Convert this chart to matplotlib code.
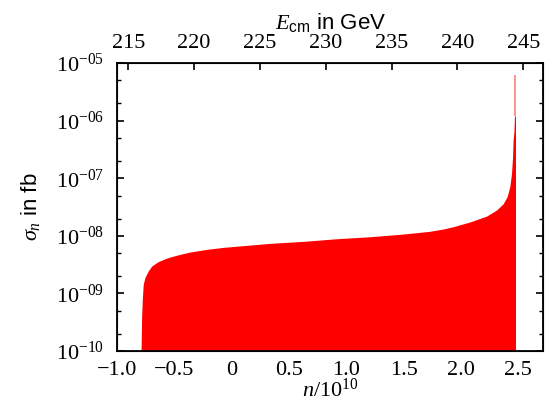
import numpy as np
import matplotlib
matplotlib.use("Agg")
import matplotlib.pyplot as plt
from matplotlib.ticker import LogLocator, FuncFormatter, NullFormatter

plt.rcParams["mathtext.fontset"] = "custom"
plt.rcParams["mathtext.rm"] = "Liberation Serif"
plt.rcParams["mathtext.it"] = "Liberation Serif:italic"
plt.rcParams["mathtext.sf"] = "Liberation Sans"
plt.rcParams["font.family"] = ["Liberation Sans", "DejaVu Sans"]

# values (n in units of 1e10, sigma in fb)
n_vals = [-0.790, -0.785, -0.779, -0.771, -0.756, -0.727, -0.697, -0.640, -0.582,
          -0.538, -0.451, -0.364, -0.218, -0.073, 0.131, 0.334, 0.624, 0.915,
          1.206, 1.496, 1.729, 1.850, 1.932, 2.078, 2.223, 2.310, 2.368, 2.403,
          2.426, 2.441, 2.450, 2.455, 2.462, 2.467, 2.476]
sigma_vals = [1e-10, 4e-10, 8.2e-10, 1.45e-9, 1.9e-9, 2.47e-9, 3.0e-9, 3.57e-9, 4.0e-9,
              4.29e-9, 4.77e-9, 5.23e-9, 5.83e-9, 6.31e-9, 6.84e-9, 7.41e-9, 8.02e-9, 8.91e-9,
              9.65e-9, 1.075e-8, 1.2e-8, 1.32e-8, 1.44e-8, 1.74e-8, 2.2e-8, 2.8e-8, 3.6e-8, 4.8e-8,
              7.1e-8, 1.2e-7, 2.3e-7, 4.6e-7, 6.3e-7, 1.2e-6, 1.2e-6]
spike_n = 2.471
spike_top = 6.2e-6

x_ticks = [-1.0, -0.5, 0, 0.5, 1.0, 1.5, 2.0, 2.5]
x_labels = ["\u22121.0", "\u22120.5", "0", "0.5", "1.0", "1.5", "2.0", "2.5"]
e_ticks = [215, 220, 225, 230, 235, 240, 245]

fig = plt.figure(figsize=(5.54, 4.04), dpi=100)
ax = fig.add_axes([0.2112, 0.131, 0.7698, 0.713])

ax.fill_between(n_vals, 1e-11, sigma_vals, color="#ff0000", linewidth=0)
ax.vlines(spike_n, sigma_vals[-1], spike_top, color="#ff7f7f", linewidth=1.2)

ax.set_yscale("log")
ax.set_ylim(1e-10, 1e-5)
ax.set_xlim(-1.0, 2.72)

ax.yaxis.set_major_locator(LogLocator(base=10, numticks=10))
ax.yaxis.set_minor_locator(LogLocator(base=10, subs=(2, 5), numticks=10))
ax.yaxis.set_major_formatter(FuncFormatter(lambda v, p: r"$10^{-%02d}$" % round(-np.log10(v))))
ax.yaxis.set_minor_formatter(NullFormatter())

ax.set_xticks(x_ticks)
ax.set_xticklabels(x_labels, family="Liberation Serif", fontsize=16)
ax.tick_params(axis="x", which="both", length=0, pad=7)
ax.tick_params(axis="y", which="major", direction="in", length=5, width=1.2,
               right=True, labelsize=16, pad=9)
ax.tick_params(axis="y", which="minor", direction="in", length=3, width=1.0, right=True)

for s in ax.spines.values():
    s.set_linewidth(1.3)

ax.set_xlabel(r"$n/10^{10}$", fontsize=16, labelpad=-1)
ax.set_ylabel(r"$\sigma_n$ in fb", fontsize=16, labelpad=10)

ax2 = ax.twiny()
ax2.set_xlim(214.14, 246.53)
ax2.set_xticks(e_ticks)
ax2.set_xticklabels([str(e) for e in e_ticks], family="Liberation Serif", fontsize=16)
ax2.tick_params(axis="x", direction="in", length=5, width=1.2, pad=7)
ax2.set_xlabel(r"$E_{\mathsf{cm}}$ in GeV", fontsize=16, labelpad=4)

fig.savefig("out.png", dpi=100)
